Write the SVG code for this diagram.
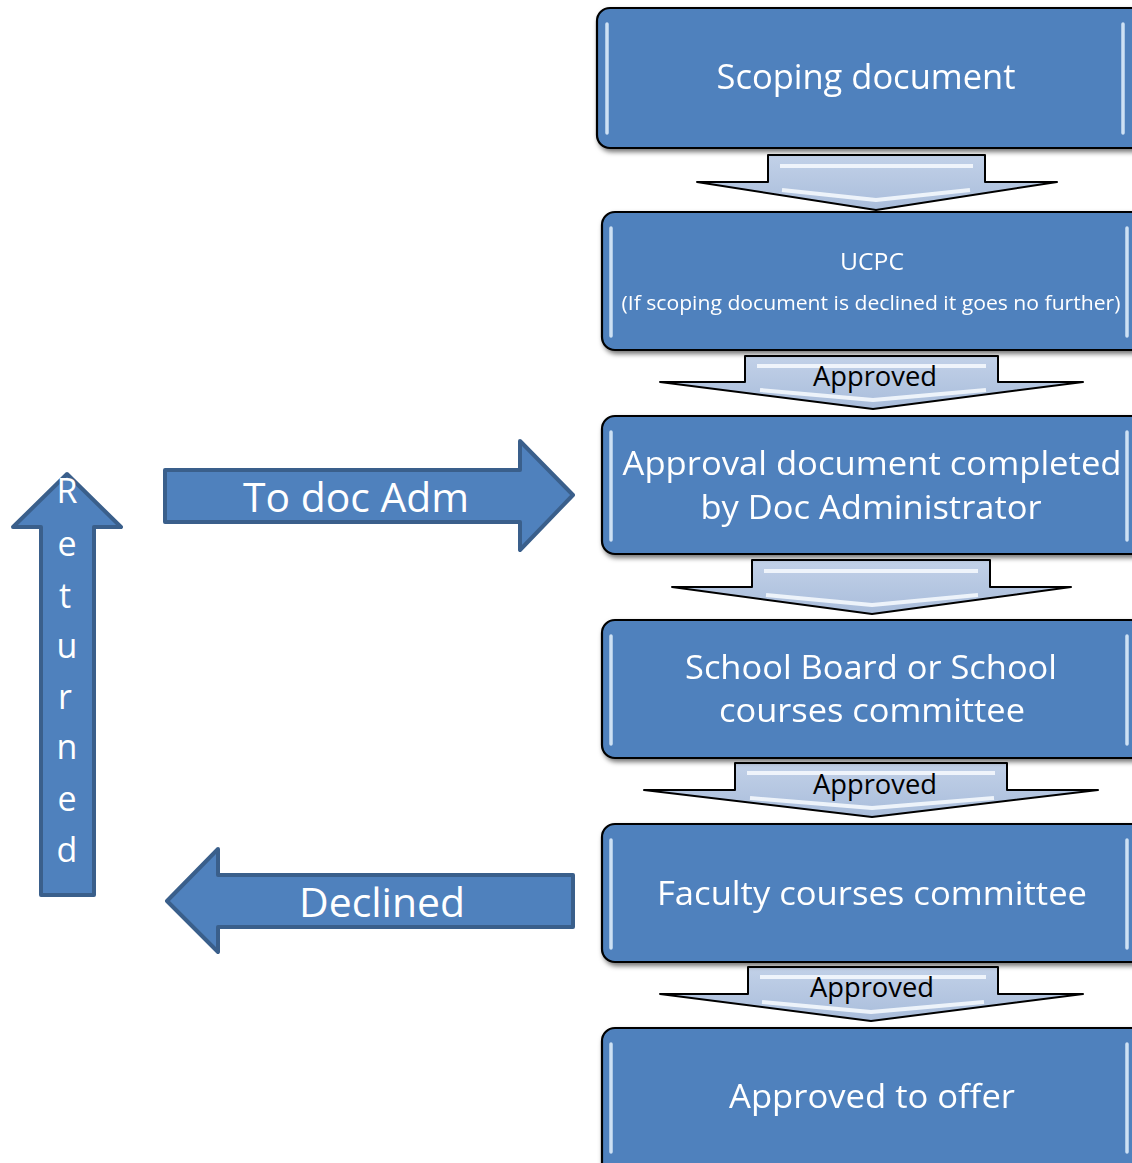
<svg xmlns="http://www.w3.org/2000/svg" width="1132" height="1163" viewBox="0 0 1132 1163">
<style>
.box{fill:#4F81BD;stroke:#000;stroke-width:2.2}
.hl{stroke:#DCEBFA;stroke-width:3.5;stroke-linecap:round;fill:none;opacity:.9}
.bt{font-family:"Open Sans","Noto Sans",sans-serif;fill:#fff;text-anchor:middle}
.dn{fill:url(#dg);stroke:#000;stroke-width:2;stroke-linejoin:round}
.dh{fill:none;stroke:#F4F8FD;stroke-width:4;stroke-linejoin:round;opacity:.9}
.lab{font-family:"Open Sans","Noto Sans",sans-serif;fill:#000;text-anchor:middle;font-size:28px}
.ba{fill:#4F81BD;stroke:#3A5F8B;stroke-width:4;stroke-linejoin:round}
</style>
<defs>
<filter id="sh" x="-5%" y="-10%" width="115%" height="130%">
<feDropShadow dx="2" dy="3" stdDeviation="2.5" flood-color="#000" flood-opacity="0.55"/>
</filter>
<linearGradient id="dg" x1="0" y1="0" x2="0" y2="1">
<stop offset="0" stop-color="#C2D1E8"/>
<stop offset="1" stop-color="#A9BDDB"/>
</linearGradient>
</defs>

<g id="connectors">
<g id="down1">
<polygon class="dn" points="768,155 985,155 985,182 1057,182 876,210 697,182 768,182"/>
<polyline class="dh" points="780,166 973,166"/>
<polyline class="dh" points="782,190 876,200 970,190"/>
</g>
<g id="down2">
<polygon class="dn" points="745,356 998,356 998,382 1083,382 873,409 660,382 745,382"/>
<polyline class="dh" points="757,366 986,366"/>
<polyline class="dh" points="760,390 873,400 986,390"/>
<text class="lab" x="875" y="386" textLength="124" lengthAdjust="spacingAndGlyphs">Approved</text>
</g>
<g id="down3">
<polygon class="dn" points="752,560 990,560 990,587 1071,587 872,614 672,587 752,587"/>
<polyline class="dh" points="764,571 978,571"/>
<polyline class="dh" points="766,595 872,605 978,595"/>
</g>
<g id="down4">
<polygon class="dn" points="735,763 1007,763 1007,790 1098,790 872,817 644,790 735,790"/>
<polyline class="dh" points="747,773 995,773"/>
<polyline class="dh" points="750,798 872,808 994,798"/>
<text class="lab" x="875" y="794" textLength="124" lengthAdjust="spacingAndGlyphs">Approved</text>
</g>
<g id="down5">
<polygon class="dn" points="748,967 998,967 998,994 1083,994 871,1021 660,994 748,994"/>
<polyline class="dh" points="760,977 986,977"/>
<polyline class="dh" points="762,1002 871,1012 984,1002"/>
<text class="lab" x="872" y="997" textLength="124" lengthAdjust="spacingAndGlyphs">Approved</text>
</g>
<g id="to-doc-adm">
<polygon class="ba" points="165,470 520,470 520,441 573,495 520,550 520,522 165,522"/>
<text class="bt" x="356" y="512" font-size="40" textLength="226" lengthAdjust="spacingAndGlyphs">To doc Adm</text>
</g>
<g id="declined">
<polygon class="ba" points="573,875 218,875 218,849 167,901 218,952 218,927 573,927"/>
<text class="bt" x="382" y="917" font-size="40" textLength="166" lengthAdjust="spacingAndGlyphs">Declined</text>
</g>
<g id="returned">
<polygon class="ba" points="41,895 41,527 13,527 67,474 121,527 94,527 94,895"/>
<text class="bt" font-size="34">
<tspan x="67" y="503">R</tspan><tspan x="67" y="556">e</tspan><tspan x="65" y="608">t</tspan><tspan x="67" y="658">u</tspan><tspan x="65" y="709">r</tspan><tspan x="67" y="759">n</tspan><tspan x="67" y="811">e</tspan><tspan x="67" y="862">d</tspan>
</text>
</g>
</g>

<g id="n1" filter="url(#sh)">
<rect class="box" x="597" y="8" width="550" height="140" rx="13"/>
<line class="hl" x1="607" y1="24" x2="607" y2="133"/>
<line class="hl" x1="1123" y1="24" x2="1123" y2="133"/>
<text class="bt" x="866" y="89" font-size="34" textLength="299" lengthAdjust="spacingAndGlyphs">Scoping document</text>
</g>
<g id="n2" filter="url(#sh)">
<rect class="box" x="602" y="212" width="545" height="138" rx="13"/>
<line class="hl" x1="611" y1="228" x2="611" y2="336"/>
<line class="hl" x1="1127" y1="228" x2="1127" y2="336"/>
<text class="bt" x="872" y="270" font-size="23" textLength="64" lengthAdjust="spacingAndGlyphs">UCPC</text>
<text class="bt" x="871" y="310" font-size="20" textLength="499" lengthAdjust="spacingAndGlyphs">(If scoping document is declined  it goes no further)</text>
</g>
<g id="n3" filter="url(#sh)">
<rect class="box" x="602" y="416" width="545" height="138" rx="13"/>
<line class="hl" x1="611" y1="432" x2="611" y2="540"/>
<line class="hl" x1="1127" y1="432" x2="1127" y2="540"/>
<text class="bt" x="872" y="475" font-size="33" textLength="499" lengthAdjust="spacingAndGlyphs">Approval document completed</text>
<text class="bt" x="871" y="519" font-size="33" textLength="341" lengthAdjust="spacingAndGlyphs">by Doc Administrator</text>
</g>
<g id="n4" filter="url(#sh)">
<rect class="box" x="602" y="620" width="545" height="138" rx="13"/>
<line class="hl" x1="611" y1="636" x2="611" y2="744"/>
<line class="hl" x1="1127" y1="636" x2="1127" y2="744"/>
<text class="bt" x="871" y="679" font-size="33" textLength="372" lengthAdjust="spacingAndGlyphs">School Board or School</text>
<text class="bt" x="872" y="722" font-size="33" textLength="306" lengthAdjust="spacingAndGlyphs">courses committee</text>
</g>
<g id="n5" filter="url(#sh)">
<rect class="box" x="602" y="824" width="545" height="138" rx="13"/>
<line class="hl" x1="611" y1="840" x2="611" y2="948"/>
<line class="hl" x1="1127" y1="840" x2="1127" y2="948"/>
<text class="bt" x="872" y="905" font-size="33" textLength="430" lengthAdjust="spacingAndGlyphs">Faculty courses committee</text>
</g>
<g id="n6" filter="url(#sh)">
<rect class="box" x="602" y="1028" width="545" height="150" rx="13"/>
<line class="hl" x1="611" y1="1044" x2="611" y2="1152"/>
<line class="hl" x1="1127" y1="1044" x2="1127" y2="1152"/>
<text class="bt" x="872" y="1108" font-size="33" textLength="286" lengthAdjust="spacingAndGlyphs">Approved to offer</text>
</g>
</svg>
